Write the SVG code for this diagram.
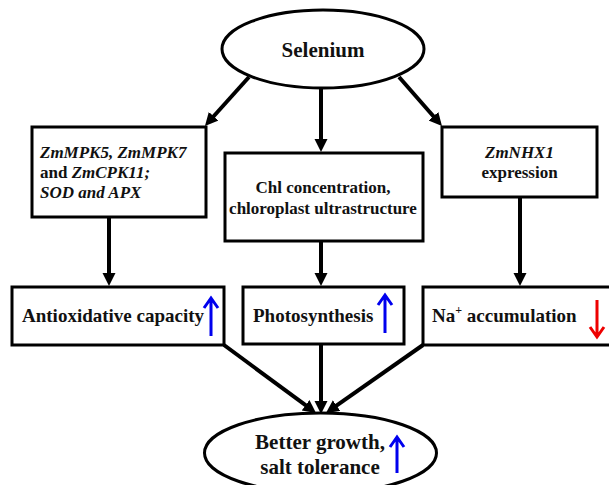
<svg xmlns="http://www.w3.org/2000/svg" width="609" height="485" viewBox="0 0 609 485">
<defs>
<marker id="ah" markerUnits="userSpaceOnUse" markerWidth="14" markerHeight="14" refX="5" refY="6.5" orient="auto">
<path d="M0,0 L13,6.5 L0,13 z" fill="#000"/>
</marker>
<style>
.box{fill:#fff;stroke:#000;stroke-width:3}
.t{font-family:'Liberation Serif','DejaVu Serif',serif;font-weight:bold;fill:#111}
.i{font-style:italic}
.c{stroke:#000;stroke-width:4;fill:none;marker-end:url(#ah)}
.up{stroke:#0000ee;stroke-width:3;fill:none}
.dn{stroke:#ee0000;stroke-width:3;fill:none}
</style>
</defs>
<rect width="609" height="485" fill="#fff"/>
<g id="connectors">
<line class="c" x1="249" y1="77" x2="210.3" y2="120"/>
<line class="c" x1="321" y1="88" x2="321" y2="144"/>
<line class="c" x1="399" y1="77" x2="436.7" y2="120"/>
<line class="c" x1="109" y1="217" x2="109" y2="278"/>
<line class="c" x1="321" y1="241" x2="321" y2="278"/>
<line class="c" x1="520" y1="197" x2="520" y2="278"/>
<line class="c" x1="224" y1="345" x2="309.6" y2="408.2"/>
<line class="c" x1="321" y1="344" x2="321" y2="406"/>
<line class="c" x1="423" y1="345" x2="332.5" y2="408.4"/>
</g>
<g id="selenium">
<ellipse class="box" cx="323" cy="49" rx="101" ry="39"/>
<text class="t" x="323" y="57" font-size="21" text-anchor="middle">Selenium</text>
</g>
<g id="genes">
<rect class="box" x="32" y="127" width="174" height="90"/>
<text class="t i" x="40" y="158" font-size="17">ZmMPK5, ZmMPK7</text>
<text class="t" x="40" y="178" font-size="17">and <tspan class="i">ZmCPK11;</tspan></text>
<text class="t i" x="40" y="198" font-size="17">SOD and APX</text>
</g>
<g id="chl">
<rect class="box" x="225" y="153" width="198" height="88"/>
<text class="t" x="323" y="193" font-size="17" text-anchor="middle">Chl concentration,</text>
<text class="t" x="323" y="214" font-size="17" text-anchor="middle">chloroplast ultrastructure</text>
</g>
<g id="nhx">
<rect class="box" x="442" y="127" width="155" height="70"/>
<text class="t i" x="519.5" y="158" font-size="17" text-anchor="middle">ZmNHX1</text>
<text class="t" x="519.5" y="178" font-size="17" text-anchor="middle">expression</text>
</g>
<g id="antiox">
<rect class="box" x="12" y="287" width="212" height="58"/>
<text class="t" x="22" y="322" font-size="19">Antioxidative capacity</text>
<path class="up" d="M211,336 V299 M204,308 L211,298 L218,308"/>
</g>
<g id="photo">
<rect class="box" x="243" y="287" width="161" height="57"/>
<text class="t" x="253" y="322" font-size="19">Photosynthesis</text>
<path class="up" d="M385,333 V296 M378,305 L385,295 L392,305"/>
</g>
<g id="na">
<rect class="box" x="423" y="287" width="200" height="58"/>
<text class="t" x="432" y="322" font-size="19">Na<tspan font-size="12" dy="-8">+</tspan><tspan dy="8"> accumulation</tspan></text>
<path class="dn" d="M597,300 V337 M590,327 L597,337 L604,327"/>
</g>
<g id="growth">
<ellipse class="box" cx="320.5" cy="453" rx="116" ry="40"/>
<text class="t" x="320" y="449" font-size="21" text-anchor="middle">Better growth,</text>
<text class="t" x="320" y="474" font-size="21" text-anchor="middle">salt tolerance</text>
<path class="up" d="M397,473 V438 M390,447 L397,437 L404,447"/>
</g>
</svg>
